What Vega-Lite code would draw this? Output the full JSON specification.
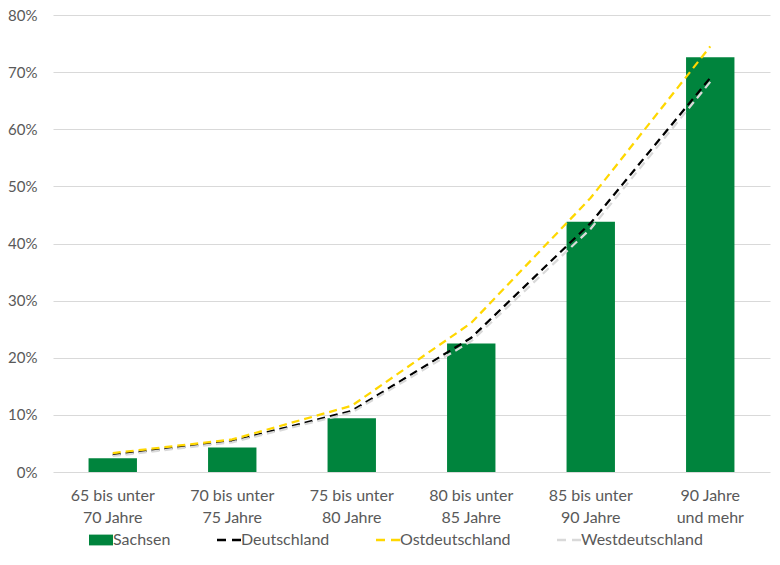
{
  "$schema": "https://vega.github.io/schema/vega-lite/v6.json",
  "autosize": "none",
  "width": 717,
  "height": 457,
  "padding": {"left": 53, "top": 15, "right": 10, "bottom": 93},
  "background": "white",
  "config": {
    "view": {"stroke": null},
    "font": "Lato",
    "axis": {"labelFont": "Lato", "labelFontSize": 16, "labelColor": "#595959", "gridColor": "#d9d9d9", "domain": false, "ticks": false, "title": null}
  },
  "data": {
    "values": [
      {"kat": "65 bis unter\n70 Jahre", "serie": "Sachsen", "wert": 0.024},
      {"kat": "70 bis unter\n75 Jahre", "serie": "Sachsen", "wert": 0.043},
      {"kat": "75 bis unter\n80 Jahre", "serie": "Sachsen", "wert": 0.094},
      {"kat": "80 bis unter\n85 Jahre", "serie": "Sachsen", "wert": 0.225},
      {"kat": "85 bis unter\n90 Jahre", "serie": "Sachsen", "wert": 0.438},
      {"kat": "90 Jahre\nund mehr", "serie": "Sachsen", "wert": 0.726},
      {"kat": "65 bis unter\n70 Jahre", "serie": "Deutschland", "wert": 0.030},
      {"kat": "70 bis unter\n75 Jahre", "serie": "Deutschland", "wert": 0.054},
      {"kat": "75 bis unter\n80 Jahre", "serie": "Deutschland", "wert": 0.107},
      {"kat": "80 bis unter\n85 Jahre", "serie": "Deutschland", "wert": 0.235},
      {"kat": "85 bis unter\n90 Jahre", "serie": "Deutschland", "wert": 0.436},
      {"kat": "90 Jahre\nund mehr", "serie": "Deutschland", "wert": 0.690},
      {"kat": "65 bis unter\n70 Jahre", "serie": "Ostdeutschland", "wert": 0.033},
      {"kat": "70 bis unter\n75 Jahre", "serie": "Ostdeutschland", "wert": 0.057},
      {"kat": "75 bis unter\n80 Jahre", "serie": "Ostdeutschland", "wert": 0.116},
      {"kat": "80 bis unter\n85 Jahre", "serie": "Ostdeutschland", "wert": 0.261},
      {"kat": "85 bis unter\n90 Jahre", "serie": "Ostdeutschland", "wert": 0.480},
      {"kat": "90 Jahre\nund mehr", "serie": "Ostdeutschland", "wert": 0.745},
      {"kat": "65 bis unter\n70 Jahre", "serie": "Westdeutschland", "wert": 0.028},
      {"kat": "70 bis unter\n75 Jahre", "serie": "Westdeutschland", "wert": 0.052},
      {"kat": "75 bis unter\n80 Jahre", "serie": "Westdeutschland", "wert": 0.104},
      {"kat": "80 bis unter\n85 Jahre", "serie": "Westdeutschland", "wert": 0.229},
      {"kat": "85 bis unter\n90 Jahre", "serie": "Westdeutschland", "wert": 0.426},
      {"kat": "90 Jahre\nund mehr", "serie": "Westdeutschland", "wert": 0.683}
    ]
  },
  "encoding": {
    "x": {
      "field": "kat", "type": "nominal", "sort": null,
      "scale": {"paddingInner": 0.595, "paddingOuter": 0.2975},
      "axis": {"labelAngle": 0, "labelExpr": "split(datum.label, '\\n')", "labelLineHeight": 22, "labelPadding": 15, "grid": false}
    },
    "y": {
      "field": "wert", "type": "quantitative",
      "scale": {"domain": [0, 0.8], "nice": false},
      "axis": {"format": ".0%", "values": [0, 0.1, 0.2, 0.3, 0.4, 0.5, 0.6, 0.7, 0.8], "labelFontSize": 15, "labelPadding": 16, "grid": true}
    },
    "color": {
      "field": "serie", "type": "nominal",
      "scale": {"domain": ["Sachsen", "Deutschland", "Ostdeutschland", "Westdeutschland"], "range": ["#00843D", "#000000", "#FFD700", "#D9D9D9"]},
      "legend": {
        "orient": "none", "legendX": 40, "legendY": 517, "direction": "horizontal",
        "title": null, "labelFont": "Lato", "labelFontSize": 16, "labelColor": "#595959",
        "symbolSize": 576, "columnPadding": 41, "labelOffset": 4,
        "encode": {"symbols": {"update": {
          "shape": {"signal": "datum.value === 'Sachsen' ? 'M-1,-0.45H1V0.45H-1Z' : 'M-1,0H1'"},
          "fill": {"signal": "datum.value === 'Sachsen' ? '#00843D' : 'transparent'"},
          "stroke": {"scale": "color", "field": "value"},
          "strokeDash": {"signal": "datum.value === 'Sachsen' ? [] : [9, 6]"},
          "strokeWidth": {"signal": "datum.value === 'Sachsen' ? 0 : 2.5"},
          "size": {"value": 576},
          "opacity": {"value": 1}
        }}}
      }
    }
  },
  "layer": [
    {
      "transform": [{"filter": "datum.serie === 'Sachsen'"}],
      "mark": {"type": "bar"}
    },
    {
      "transform": [{"filter": "datum.serie !== 'Sachsen'"}],
      "mark": {"type": "line", "strokeDash": [8, 5], "strokeWidth": 2.25},
      "encoding": {"detail": {"field": "serie"}}
    }
  ]
}
